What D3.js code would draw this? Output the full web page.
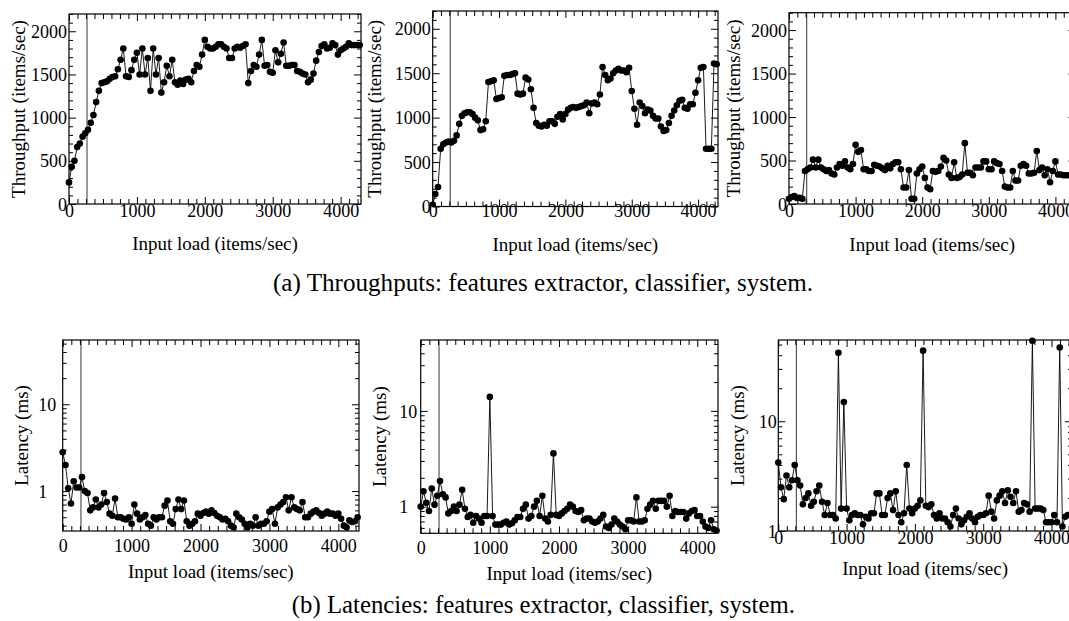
<!DOCTYPE html>
<html>
<head>
<meta charset="utf-8">
<script src="https://cdn.jsdelivr.net/npm/d3@7"></script>
<style>
body { margin: 0; background: #fff; }
svg { display: block; }
svg text { font-family: "Liberation Serif", "Times New Roman", serif; }
</style>
</head>
<body>
<script>
"use strict";

let w = 1069;
let h = 621;

// Input load (items/sec) of every sample, shared by all six panels
const load = [
    0, 40, 80, 120, 160, 200, 240, 280, 320, 360,
    400, 440, 480, 520, 560, 600, 640, 680, 720, 760,
    800, 840, 880, 920, 960, 1000, 1040, 1080, 1120, 1160,
    1200, 1240, 1280, 1320, 1360, 1400, 1440, 1480, 1520, 1560,
    1600, 1640, 1680, 1720, 1760, 1800, 1840, 1880, 1920, 1960,
    2000, 2040, 2080, 2120, 2160, 2200, 2240, 2280, 2320, 2360,
    2400, 2440, 2480, 2520, 2560, 2600, 2640, 2680, 2720, 2760,
    2800, 2840, 2880, 2920, 2960, 3000, 3040, 3080, 3120, 3160,
    3200, 3240, 3280, 3320, 3360, 3400, 3440, 3480, 3520, 3560,
    3600, 3640, 3680, 3720, 3760, 3800, 3840, 3880, 3920, 3960,
    4000, 4040, 4080, 4120, 4160, 4200, 4240, 4280
];

// (a) throughputs (items/sec)
const tputExtractor = [
    250, 430, 500, 660, 700, 780, 820, 860, 940, 1030,
    1180, 1310, 1400, 1410, 1420, 1450, 1470, 1480, 1560, 1670,
    1800, 1480, 1470, 1550, 1670, 1750, 1500, 1800, 1500, 1690,
    1310, 1800, 1500, 1690, 1290, 1410, 1600, 1480, 1670, 1410,
    1380, 1430, 1390, 1440, 1450, 1410, 1540, 1610, 1590, 1730,
    1900, 1820, 1800, 1800, 1820, 1850, 1850, 1820, 1800, 1690,
    1690, 1800, 1820, 1810, 1830, 1850, 1400, 1540, 1610, 1590,
    1730, 1900, 1600, 1610, 1530, 1520, 1780, 1640, 1740, 1870,
    1600, 1600, 1610, 1610, 1540, 1530, 1510, 1500, 1410, 1440,
    1510, 1660, 1760, 1830, 1850, 1800, 1810, 1860, 1840, 1730,
    1780, 1800, 1820, 1860, 1840, 1840, 1840, 1840
];
const tputClassifier = [
    20, 140, 220, 650, 700, 720, 730, 720, 740, 800,
    930, 1020, 1050, 1060, 1060, 1040, 1000, 970, 860, 870,
    960, 1400, 1410, 1420, 1210, 1220, 1230, 1470, 1480, 1480,
    1490, 1500, 1270, 1260, 1270, 1450, 1430, 1320, 1110, 940,
    910, 900, 920, 910, 960, 960, 930, 1010, 1040, 980,
    1040, 1090, 1110, 1120, 1110, 1120, 1130, 1140, 1170, 1050,
    1160, 1170, 1150, 1260, 1570, 1480, 1420, 1440, 1500, 1530,
    1550, 1530, 1530, 1510, 1560, 1300, 1100, 920, 1170, 1130,
    1050, 1090, 1080, 1020, 990, 990, 900, 850, 860, 940,
    1020, 1080, 1140, 1190, 1200, 1110, 1100, 1150, 1150, 1280,
    1420, 1560, 1570, 650, 650, 650, 1610, 1600
];
const tputSystem = [
    60, 80, 90, 70, 70, 60, 380, 400, 420, 510,
    420, 510, 420, 400, 380, 390, 350, 340, 420, 460,
    440, 490, 420, 400, 460, 680, 600, 620, 400, 400,
    380, 380, 450, 440, 430, 410, 390, 440, 410, 460,
    480, 480, 400, 190, 190, 390, 60, 60, 350, 400,
    430, 300, 190, 170, 380, 370, 380, 430, 530, 500,
    340, 300, 480, 300, 310, 340, 700, 360, 360, 330,
    420, 420, 420, 490, 490, 400, 400, 490, 470, 460,
    380, 200, 190, 190, 380, 270, 270, 440, 460, 440,
    350, 350, 360, 610, 390, 420, 330, 400, 250, 380,
    490, 340, 340, 330, 330, 330, 330, 330
];

// (b) latencies (ms)
const latExtractor = [
    2.8, 2.0, 1.08, 0.72, 1.3, 1.1, 1.1, 1.45, 1.0, 0.95,
    0.6, 0.65, 0.8, 0.65, 0.7, 0.95, 0.75, 0.55, 0.52, 0.82,
    0.5, 0.5, 0.48, 0.47, 0.5, 0.42, 0.7, 0.55, 0.47, 0.5,
    0.53, 0.42, 0.4, 0.5, 0.47, 0.5, 0.5, 0.68, 0.78, 0.45,
    0.42, 0.62, 0.8, 0.62, 0.78, 0.45, 0.4, 0.42, 0.45, 0.55,
    0.52, 0.56, 0.58, 0.55, 0.6, 0.56, 0.52, 0.5, 0.47, 0.48,
    0.45, 0.4, 0.38, 0.55, 0.5, 0.47, 0.42, 0.38, 0.42, 0.4,
    0.5, 0.4, 0.42, 0.42, 0.45, 0.58, 0.62, 0.42, 0.65, 0.7,
    0.75, 0.85, 0.6, 0.85, 0.65, 0.62, 0.6, 0.75, 0.5, 0.5,
    0.55, 0.58, 0.6, 0.56, 0.52, 0.55, 0.58, 0.55, 0.55, 0.52,
    0.55, 0.48, 0.4, 0.38, 0.46, 0.44, 0.45, 0.5
];
const latClassifier = [
    1.0, 1.45, 1.1, 0.9, 1.55, 1.05, 1.3, 1.85, 1.35, 1.25,
    0.85, 0.9, 1.0, 0.9, 1.05, 1.5, 0.95, 0.78, 0.82, 0.68,
    0.8, 0.75, 0.68, 0.8, 0.8, 14, 0.8, 0.65, 0.65, 0.65,
    0.68, 0.7, 0.65, 0.67, 0.72, 0.78, 0.78, 0.95, 1.05, 0.75,
    0.8, 1.0, 1.15, 0.8, 1.3, 0.75, 0.7, 0.82, 3.6, 0.82,
    0.8, 0.85, 0.9, 0.95, 1.05, 1.0, 0.9, 0.88, 0.92, 0.72,
    0.75, 0.75, 0.7, 0.68, 0.7, 0.75, 0.82, 0.62, 0.6, 0.65,
    0.75, 0.7, 0.65, 0.62, 0.58, 0.72, 0.72, 0.7, 1.25, 0.7,
    0.7, 0.72, 0.95, 1.05, 1.15, 0.95, 1.15, 1.15, 1.15, 1.0,
    1.3, 0.8, 0.9, 0.88, 0.88, 0.88, 0.75, 0.85, 0.9, 0.92,
    0.8, 0.8, 0.7, 0.62, 0.6, 0.72, 0.58, 0.56
];
const latSystem = [
    4.2, 2.5, 1.95, 3.2, 2.5, 2.9, 4.0, 2.9, 2.6, 1.75,
    2.0, 2.2, 1.7, 1.85, 2.3, 2.6, 1.85, 1.4, 1.8, 1.4,
    1.4, 1.3, 42, 1.6, 15, 1.6, 1.25, 1.4, 1.45, 1.4,
    1.4, 1.15, 1.35, 1.3, 1.45, 1.45, 2.2, 2.2, 1.4, 1.4,
    2.0, 2.2, 1.55, 2.3, 1.4, 1.2, 1.45, 4.0, 1.6, 1.45,
    1.6, 1.7, 1.9, 44, 1.7, 1.65, 1.75, 1.4, 1.3, 1.45,
    1.3, 1.3, 1.2, 1.1, 1.4, 1.6, 1.3, 1.15, 1.25, 1.35,
    1.45, 1.3, 1.2, 1.35, 1.4, 1.4, 1.45, 2.1, 1.5, 1.3,
    1.9, 2.1, 2.3, 1.8, 2.35, 2.05, 1.8, 2.3, 1.5, 1.55,
    1.8, 1.75, 1.5, 54, 1.6, 1.6, 1.6, 1.55, 1.2, 1.2,
    1.2, 1.4, 1.2, 47, 1.1, 1.35, 1.4, 1.4
];

// tick labels and fixed values
const loadDomain = [0, 4300];
const loadTicks = [0, 1000, 2000, 3000, 4000];
const tputDomain = [0, 2200];
const tputTicks = [0, 500, 1000, 1500, 2000];
const latTicks = [1, 10];
const latMax = 55;
const markerLoad = 265; // vertical reference line
const tputTitle = "Throughput (items/sec)";
const latTitle = "Latency (ms)";
const loadTitle = "Input load (items/sec)";
const captions = [
    "(a) Throughputs: features extractor, classifier, system.",
    "(b) Latencies: features extractor, classifier, system."
];

const FONT = "Liberation Serif, Times New Roman, serif";

// layout of each panel (pixels)
let panels = [
    {values: tputExtractor, left: 69, right: 361, top: 14, bottom: 204,
     xLab: 217, xTitle: 250, yTitleX: -44, yLabX: -2, yAnchor: "end"},
    {values: tputClassifier, left: 432.7, right: 718, top: 11, bottom: 206.5,
     xLab: 217, xTitle: 251, yTitleX: -51.5, yLabX: -2, yAnchor: "end"},
    {values: tputSystem, left: 789, right: 1075.4, top: 12.7, bottom: 204,
     xLab: 216.5, xTitle: 250.5, yTitleX: -49, yLabX: -2, yAnchor: "end"},
    {values: latExtractor, log: true, ymin: 0.347, left: 62.7, right: 359, top: 340, bottom: 531,
     xLab: 552, xTitle: 578, yTitleX: -34.5, yLabX: -24.4, yAnchor: "start"},
    {values: latClassifier, log: true, ymin: 0.527, left: 420.7, right: 718, top: 340, bottom: 533.3,
     xLab: 554, xTitle: 580, yTitleX: -34.5, yLabX: -21.4, yAnchor: "start"},
    {values: latSystem, log: true, ymin: 1, left: 778.3, right: 1072, top: 340, bottom: 531,
     xLab: 544, xTitle: 575, yTitleX: -34.3, yLabX: -1.5, yAnchor: "end"}
];

let svg = d3.select("body")
    .append("svg")
    .attr("width", w)
    .attr("height", h)
    .attr("font-family", FONT);

function drawPanel(p, k) {
    let x = d3.scaleLinear().domain(loadDomain).range([p.left, p.right]);
    let y = p.log
        ? d3.scaleLog().domain([p.ymin, latMax]).range([p.bottom, p.top])
        : d3.scaleLinear().domain(tputDomain).range([p.bottom, p.top]);

    // tick positions
    let xMinor = d3.range(0, 4301, 125).filter(v => v % 1000 !== 0);
    let yMajor, yMinor;
    if (p.log) {
        yMajor = latTicks.filter(v => v >= p.ymin);
        yMinor = [];
        [0.1, 1, 10].forEach(dec => {
            for (let m = 2; m <= 9; m++) {
                let v = +(m * dec).toPrecision(3);
                if (v >= p.ymin && v <= latMax) yMinor.push(v);
            }
        });
    } else {
        yMajor = tputTicks;
        yMinor = d3.range(0, 2201, 100).filter(v => v % 500 !== 0);
    }

    let g = svg.append("g").attr("class", "panel");
    let clipId = "clip" + k;
    // clip the data at the bottom edge only loosely at the sides and top,
    // so edge points keep their full dot
    g.append("clipPath").attr("id", clipId)
        .append("rect")
        .attr("x", p.left - 4).attr("y", p.top - 4)
        .attr("width", p.right - p.left + 8).attr("height", p.bottom - p.top + 4);

    // vertical marker line
    g.append("line")
        .attr("x1", x(markerLoad)).attr("x2", x(markerLoad))
        .attr("y1", p.top).attr("y2", p.bottom)
        .attr("stroke", "#555")
        .attr("stroke-width", 1.2);

    let pts = load.map((l, i) => [l, p.values[i]]);
    let data = g.append("g").attr("clip-path", `url(#${clipId})`);
    data.append("path")
        .datum(pts)
        .attr("fill", "none")
        .attr("stroke", "#000")
        .attr("stroke-width", 0.9)
        .attr("d", d3.line().x(d => x(d[0])).y(d => y(d[1])));
    data.selectAll("circle")
        .data(pts)
        .enter().append("circle")
        .attr("cx", d => x(d[0]))
        .attr("cy", d => y(d[1]))
        .attr("r", 3.3)
        .attr("fill", "#000");

    // ticks on all four sides, pointing inward
    let addAxis = (axis, tx, ty) => {
        let a = g.append("g").attr("transform", `translate(${tx},${ty})`).call(axis);
        a.attr("font-family", FONT).attr("font-size", 18);
        a.select(".domain").remove();
        a.selectAll("line").attr("stroke", "#000").attr("stroke-width", 1);
        return a;
    };
    let bottom = addAxis(d3.axisBottom(x).tickValues(loadTicks).tickSize(-7).tickFormat(d3.format("d")), 0, p.bottom);
    bottom.selectAll("text")
        .attr("y", p.xLab - p.bottom)
        .attr("dy", null)
        .attr("fill", "#000");
    addAxis(d3.axisBottom(x).tickValues(xMinor).tickSize(-5).tickFormat(""), 0, p.bottom);
    addAxis(d3.axisTop(x).tickValues(loadTicks).tickSize(-7).tickFormat(""), 0, p.top);
    addAxis(d3.axisTop(x).tickValues(xMinor).tickSize(-5).tickFormat(""), 0, p.top);

    let left = addAxis(d3.axisLeft(y).tickValues(yMajor).tickSize(-7).tickFormat(d3.format("d")), p.left, 0);
    left.selectAll("text")
        .attr("x", p.yLabX)
        .attr("dy", "0.34em")
        .attr("text-anchor", p.yAnchor)
        .attr("fill", "#000");
    addAxis(d3.axisLeft(y).tickValues(yMinor).tickSize(-4).tickFormat(""), p.left, 0);
    addAxis(d3.axisRight(y).tickValues(yMajor).tickSize(-7).tickFormat(""), p.right, 0);
    addAxis(d3.axisRight(y).tickValues(yMinor).tickSize(-4).tickFormat(""), p.right, 0);

    // frame
    g.append("rect")
        .attr("x", p.left).attr("y", p.top)
        .attr("width", p.right - p.left).attr("height", p.bottom - p.top)
        .attr("fill", "none")
        .attr("stroke", "#000")
        .attr("stroke-width", 1.2);

    // axis titles
    g.append("text")
        .attr("x", (p.left + p.right) / 2)
        .attr("y", p.xTitle)
        .attr("text-anchor", "middle")
        .attr("font-family", FONT)
        .attr("font-size", 19)
        .text(loadTitle);
    let ty = (p.top + p.bottom) / 2;
    g.append("text")
        .attr("transform", `translate(${p.left + p.yTitleX},${ty}) rotate(-90)`)
        .attr("text-anchor", "middle")
        .attr("font-family", FONT)
        .attr("font-size", 19)
        .text(p.log ? latTitle : tputTitle);
}

panels.forEach(drawPanel);

// sub-figure captions, sized to the width they take in the figure
let capLayout = [{y: 291, x0: 273, x1: 813}, {y: 613, x0: 291.7, x1: 795}];
captions.forEach((c, i) => {
    let t = svg.append("text")
        .attr("x", (capLayout[i].x0 + capLayout[i].x1) / 2)
        .attr("y", capLayout[i].y)
        .attr("text-anchor", "middle")
        .attr("font-family", FONT)
        .attr("font-size", 20)
        .text(c);
    let len = t.node().getComputedTextLength();
    let target = capLayout[i].x1 - capLayout[i].x0;
    t.attr("font-size", (20 * target / len).toFixed(2));
});
</script>
</body>
</html>
